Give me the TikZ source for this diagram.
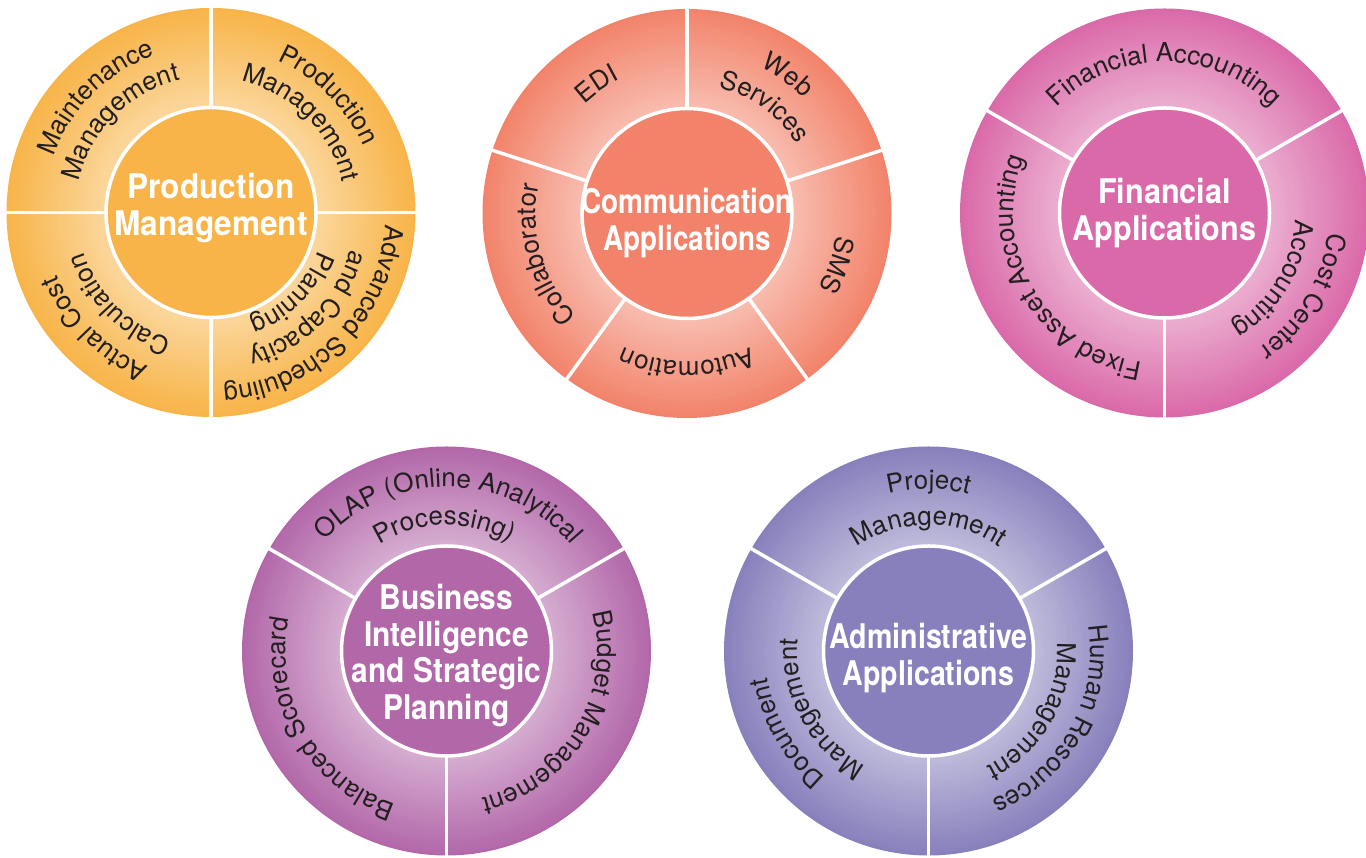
\documentclass[tikz,border=0pt]{standalone}
\usepackage{fontspec}
\setmainfont{TeX Gyre Heros}
\usetikzlibrary{decorations.text}
\definecolor{cP}{HTML}{F8B448}
\definecolor{cC}{HTML}{F2836A}
\definecolor{cF}{HTML}{DA69A9}
\definecolor{cB}{HTML}{B267A9}
\definecolor{cA}{HTML}{8780BC}
\definecolor{ringtext}{HTML}{231F20}
\newcommand\ringfont{\fontsize{26}{30}\selectfont\color{ringtext}}
% ring label: mid angle, baseline radius, text (clockwise, tops outward)
\newcommand\rtext[3]{\path[decorate,decoration={text along path,text={|\ringfont|#3},text align=center}] (#1+89:#2) arc[start angle=#1+89,end angle=#1-89,radius=#2];}
% disc: colour, separator angles
\newcommand\disc[2]{%
  \foreach \i in {0,...,39}{%
    \pgfmathsetmacro\rr{204.5-\i*2.45}%
    \pgfmathtruncatemacro\pc{100-\i*1.15}%
    \fill[#1!\pc!white] (0,0) circle[radius=\rr];}
  \foreach \a in {#2}{\draw[sepline] (\a:100) -- (\a:207);}
  \fill[#1] (0,0) circle[radius=105];
  \draw[white, line width=3.5pt] (0,0) circle[radius=105];
}
\tikzset{
  sepline/.style={white, line width=3.5pt},
  hubtext/.style={white, inner sep=0pt, font=\fontsize{34}{36.5}\selectfont\bfseries},
}
\begin{document}
\begin{tikzpicture}[x=1pt,y=1pt]
\useasboundingbox (0,0) rectangle (1366,858);
\fill[white] (0,0) rectangle (1366,858);

% Production Management
\begin{scope}[shift={(211,645.5)}]
  \disc{cP}{0,90,180,270}
  \node[hubtext] (hubP) at (0,2.7) {\scalebox{0.93}[1]{\begin{tabular}{@{}c@{}}Production\\Management\end{tabular}}};
  \rtext{45}{166}{Production}
  \rtext{45}{135}{Management}
  \rtext{135}{167}{Maintenance}
  \rtext{135}{136}{Management}
  \rtext{225}{166}{Actual Cost}
  \rtext{225}{133}{Calculation}
  \rtext{-45}{175}{Advanced Scheduling}
  \rtext{-45}{144}{and Capacity}
  \rtext{-45}{114}{Planning}
\end{scope}

% Communication Applications
\begin{scope}[shift={(687,644.5)}]
  \disc{cC}{90,18,-54,-126,162}
  \node[hubtext] (hubC) at (0,-11.3) {\scalebox{0.82}[1]{\begin{tabular}{@{}c@{}}Communication\\Applications\end{tabular}}};
  \rtext{125}{150}{EDI}
  \rtext{54}{164}{Web}
  \rtext{54}{130}{Services}
  \rtext{-19}{151}{SMS}
  \rtext{-90}{148}{Automation}
  \rtext{196}{151}{Collaborator}
\end{scope}

% Financial Applications
\begin{scope}[shift={(1164.5,645)}]
  \disc{cF}{150,30,270}
  \node[hubtext] (hubF) at (0,-1.8) {\scalebox{0.9}[1]{\begin{tabular}{@{}c@{}}Financial\\Applications\end{tabular}}};
  \rtext{90}{151}{Financial Accounting}
  \rtext{-31}{165}{Cost Center}
  \rtext{-31}{131}{Accounting}
  \rtext{210}{151}{Fixed Asset Accounting}
\end{scope}

% Business Intelligence
\begin{scope}[shift={(446.5,207)}]
  \disc{cB}{150,30,270}
  \node[hubtext] (hubB) at (0,-6.3) {\scalebox{0.88}[1]{\begin{tabular}{@{}c@{}}Business\\Intelligence\\and Strategic\\Planning\end{tabular}}};
  \rtext{89}{164}{OLAP (Online Analytical}
  \rtext{91}{126}{Processing)}
  \rtext{-31}{151}{Budget Management}
  \rtext{210}{161}{Balanced Scorecard}
\end{scope}

% Administrative Applications
\begin{scope}[shift={(928.5,207)}]
  \disc{cA}{150,30,270}
  \node[hubtext] (hubA) at (0,-8.8) {\scalebox{0.84}[1]{\begin{tabular}{@{}c@{}}Administrative\\Applications\end{tabular}}};
  \rtext{90}{162}{Project}
  \rtext{90}{126}{Management}
  \rtext{-29}{162}{Human Resources}
  \rtext{-30}{129}{Management}
  \rtext{210}{163}{Document}
  \rtext{208}{131}{Management}
\end{scope}
\end{tikzpicture}
\end{document}
